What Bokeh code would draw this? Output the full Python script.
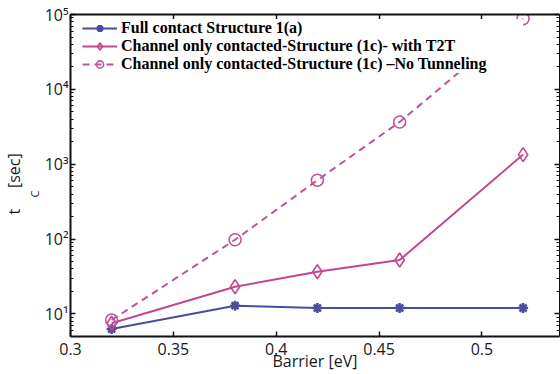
import math
from bokeh.plotting import figure
from bokeh.models import (LogAxis, LinearAxis, Legend, LegendItem, Title,
                          CustomJSTickFormatter, FixedTicker, LogTicker, Range1d)
from bokeh.embed import file_html
from bokeh.resources import INLINE

# ---- data ----
barrier = [0.32, 0.38, 0.42, 0.46, 0.52]
full_contact = [6.3, 12.9, 12.0, 12.0, 12.0]
channel_t2t = [7.5, 23.1, 36.6, 52.5, 1346.0]
channel_no_tunnel = [8.3, 98.0, 612.0, 3665.0, 88000.0]

series_names = [
    "Full contact Structure 1(a)",
    "Channel only contacted-Structure (1c)- with T2T",
    "Channel only contacted-Structure (1c) \u2013No Tunneling",
]
x_ticks = [0.3, 0.35, 0.4, 0.45, 0.5]
x_tick_labels = ["0.3", "0.35", "0.4", "0.45", "0.5"]
y_ticks = [10, 100, 1000, 10000, 100000]
y_tick_labels = ["10\u00b9", "10\u00b2", "10\u00b3", "10\u2074", "10\u2075"]
x_label = "Barrier [eV]"
y_label_main = "t" + "\u00a0" * 5 + "[sec]"
y_label_sub = "C"

BLUE = "#4b4c9e"
MAGENTA = "#c4468f"
DASHED = "#bd5597"
SANS = "Open Sans"

p = figure(width=560, height=374, y_axis_type="log",
           x_range=Range1d(0.3, 0.5377), y_range=Range1d(5, 1e5),
           output_backend="svg", toolbar_location=None,
           min_border_left=68, min_border_top=14, min_border_right=1,
           min_border_bottom=36, outline_line_color=None,
           background_fill_color="white", border_fill_color="white")
p.grid.visible = False

r1 = p.line(barrier, full_contact, line_color=BLUE, line_width=2)
m1 = p.scatter(barrier, full_contact, marker="asterisk", size=10,
               line_color=BLUE, line_width=2.5)
r2 = p.line(barrier, channel_t2t, line_color=MAGENTA, line_width=2)
m2 = p.scatter(barrier, channel_t2t, marker="diamond", size=14,
               line_color=MAGENTA, fill_color="white", fill_alpha=0, line_width=1.6)
r3 = p.line(barrier, channel_no_tunnel, line_color=DASHED, line_width=2,
            line_dash="7 5")
m3 = p.scatter(barrier, channel_no_tunnel, marker="circle", size=12,
               line_color=DASHED, fill_alpha=0, line_width=1.6)

x_fmt = CustomJSTickFormatter(args=dict(tvals=x_ticks, tlabels=x_tick_labels), code="""
const i = tvals.findIndex(t => Math.abs(t - tick) < 1e-9);
return i >= 0 ? tlabels[i] : '';
""")
y_fmt = CustomJSTickFormatter(args=dict(tvals=y_ticks, tlabels=y_tick_labels), code="""
const i = tvals.findIndex(t => Math.abs(Math.log10(t) - Math.log10(tick)) < 1e-6);
return i >= 0 ? tlabels[i] : '';
""")


def style_axis(ax, show_labels):
    ax.axis_line_width = 2
    ax.axis_line_color = "#111111"
    ax.major_tick_line_color = "#111111"
    ax.minor_tick_line_color = "#111111"
    ax.major_tick_line_width = 1.5
    ax.major_tick_in = 5
    ax.major_tick_out = 0
    ax.minor_tick_in = 3
    ax.minor_tick_out = 0
    ax.axis_label = None
    if show_labels:
        ax.major_label_text_font = SANS
        ax.major_label_text_font_size = "16px"
        ax.major_label_text_color = "#1a1a1a"
    else:
        ax.major_label_text_font_size = "0px"
        ax.major_label_standoff = 0


xa = p.xaxis[0]
xa.ticker = FixedTicker(ticks=x_ticks)
xa.formatter = x_fmt
style_axis(xa, True)
xa.major_label_standoff = 6
xa.axis_label = x_label
xa.axis_label_text_font = SANS
xa.axis_label_text_font_size = "16px"
xa.axis_label_text_font_style = "normal"
xa.axis_label_text_color = "#1a1a1a"
xa.axis_label_text_line_height = 0.6
xa.axis_label_standoff = -8

ya = p.yaxis[0]
ya.ticker = LogTicker(num_minor_ticks=10)
ya.formatter = y_fmt
style_axis(ya, True)
ya.major_label_standoff = 2

top = LinearAxis(ticker=FixedTicker(ticks=x_ticks), formatter=x_fmt)
style_axis(top, False)
p.add_layout(top, "above")

right = LogAxis(ticker=LogTicker(num_minor_ticks=10), formatter=y_fmt)
style_axis(right, False)
right.axis_line_width = 1
p.add_layout(right, "right")

# y-axis title: subscript "C" in its own column next to the tick labels
t_sub = Title(text=y_label_sub, align="left", offset=139,
              text_font=SANS, text_font_size="11px", text_font_style="normal",
              text_color="#1a1a1a")
t_main = Title(text=y_label_main, align="left", offset=122,
               text_font=SANS, text_font_size="16px", text_font_style="normal",
               text_color="#1a1a1a")
for t in (t_sub, t_main):
    try:
        t.standoff = 0
    except AttributeError:
        pass
p.add_layout(t_sub, "left")
p.add_layout(t_main, "left")

pad = "\u00a0" * 9
legend = Legend(items=[
    LegendItem(label=series_names[0], renderers=[r1, m1]),
    LegendItem(label=series_names[1], renderers=[r2, m2]),
    LegendItem(label=series_names[2] + pad, renderers=[r3, m3]),
], location=(12, 263), padding=6, margin=0, spacing=0,
    glyph_width=35, glyph_height=18, label_height=18,
    label_standoff=4, label_text_font="Liberation Serif",
    label_text_font_style="bold", label_text_font_size="16px",
    label_text_color="#000000", border_line_color=None,
    background_fill_color="white", background_fill_alpha=1.0)
p.add_layout(legend, "center")

open("out.html", "w").write(file_html(p, INLINE))
